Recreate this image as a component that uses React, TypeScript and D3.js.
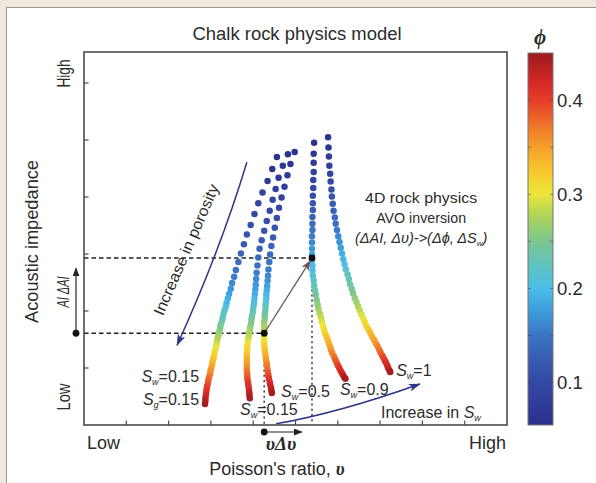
import React from "react";
import * as d3 from "d3";

// porosity samples shared by all curves
const PHI = [0.060, 0.068, 0.076, 0.084, 0.092, 0.100, 0.108, 0.116, 0.124, 0.132,
  0.140, 0.148, 0.156, 0.164, 0.172, 0.180, 0.188, 0.196, 0.204, 0.212,
  0.220, 0.228, 0.236, 0.244, 0.252, 0.260, 0.268, 0.276, 0.284, 0.292,
  0.300, 0.308, 0.316, 0.324, 0.332, 0.340, 0.348, 0.356, 0.364, 0.372,
  0.380, 0.388, 0.396, 0.404, 0.412, 0.420, 0.428, 0.436, 0.444];

// Curve A : Sw=0.15 / Sg=0.15
const NU_A = [4.56, 4.45, 4.34, 4.22, 4.12, 4.03, 3.94, 3.85, 3.78, 3.71,
  3.65, 3.59, 3.55, 3.50, 3.47, 3.43, 3.40, 3.37, 3.35, 3.32,
  3.30, 3.28, 3.26, 3.23, 3.22, 3.20, 3.18, 3.16, 3.14, 3.13,
  3.11, 3.09, 3.08, 3.06, 3.04, 3.03, 3.01, 2.99, 2.98, 2.96,
  2.94, 2.93, 2.91, 2.90, 2.89, 2.88, 2.87, 2.87, 2.86];
const AI_A = [4.70, 4.49, 4.28, 4.08, 3.89, 3.70, 3.51, 3.34, 3.17, 3.01,
  2.86, 2.72, 2.60, 2.49, 2.39, 2.30, 2.22, 2.14, 2.07, 2.01,
  1.95, 1.88, 1.82, 1.76, 1.70, 1.64, 1.58, 1.52, 1.46, 1.40,
  1.34, 1.29, 1.23, 1.17, 1.12, 1.06, 1.00, 0.95, 0.89, 0.84,
  0.79, 0.73, 0.68, 0.63, 0.58, 0.52, 0.47, 0.42, 0.37];
// Curve B : Sw=0.15
const NU_B = [4.82, 4.70, 4.60, 4.53, 4.46, 4.39, 4.32, 4.26, 4.20, 4.15,
  4.12, 4.10, 4.08, 4.07, 4.06, 4.05, 4.04, 4.03, 4.02, 4.01,
  4.00, 3.99, 3.97, 3.96, 3.95, 3.93, 3.92, 3.90, 3.89, 3.88,
  3.87, 3.86, 3.86, 3.85, 3.85, 3.85, 3.85, 3.85, 3.85, 3.85,
  3.86, 3.86, 3.87, 3.88, 3.89, 3.90, 3.91, 3.91, 3.92];
const AI_B = [4.75, 4.55, 4.34, 4.14, 3.95, 3.76, 3.58, 3.41, 3.24, 3.09,
  2.94, 2.80, 2.67, 2.56, 2.46, 2.38, 2.30, 2.22, 2.15, 2.09,
  2.03, 1.97, 1.91, 1.85, 1.78, 1.72, 1.66, 1.61, 1.55, 1.49,
  1.43, 1.38, 1.32, 1.26, 1.21, 1.15, 1.10, 1.04, 0.99, 0.94,
  0.88, 0.83, 0.78, 0.73, 0.68, 0.62, 0.57, 0.52, 0.47];
// Curve C : Sw=0.5
const NU_C = [4.98, 4.88, 4.81, 4.74, 4.67, 4.61, 4.56, 4.51, 4.47, 4.43,
  4.40, 4.38, 4.36, 4.35, 4.34, 4.33, 4.32, 4.31, 4.31, 4.30,
  4.29, 4.29, 4.28, 4.27, 4.27, 4.26, 4.26, 4.26, 4.26, 4.26,
  4.26, 4.26, 4.26, 4.27, 4.28, 4.29, 4.30, 4.31, 4.32, 4.33,
  4.34, 4.35, 4.36, 4.37, 4.39, 4.40, 4.42, 4.43, 4.44];
const AI_C = [4.79, 4.58, 4.38, 4.18, 3.99, 3.81, 3.63, 3.46, 3.29, 3.14,
  2.99, 2.86, 2.73, 2.62, 2.53, 2.44, 2.36, 2.29, 2.22, 2.16,
  2.10, 2.04, 1.98, 1.92, 1.86, 1.80, 1.74, 1.68, 1.62, 1.56,
  1.51, 1.45, 1.40, 1.34, 1.29, 1.23, 1.18, 1.12, 1.07, 1.02,
  0.96, 0.91, 0.86, 0.81, 0.76, 0.71, 0.66, 0.61, 0.56];
// Curve D : Sw=0.9
const NU_D = [5.44, 5.43, 5.43, 5.43, 5.42, 5.42, 5.41, 5.41, 5.41, 5.40,
  5.40, 5.40, 5.39, 5.39, 5.39, 5.39, 5.39, 5.40, 5.40, 5.41,
  5.43, 5.44, 5.46, 5.48, 5.50, 5.52, 5.54, 5.57, 5.60, 5.62,
  5.65, 5.67, 5.70, 5.73, 5.76, 5.79, 5.82, 5.84, 5.87, 5.91,
  5.94, 5.97, 6.00, 6.03, 6.06, 6.09, 6.12, 6.15, 6.18];
const AI_D = [4.95, 4.76, 4.60, 4.44, 4.30, 4.16, 4.02, 3.89, 3.77, 3.65,
  3.53, 3.42, 3.31, 3.20, 3.09, 2.99, 2.89, 2.80, 2.71, 2.62,
  2.53, 2.44, 2.36, 2.28, 2.19, 2.12, 2.04, 1.96, 1.89, 1.82,
  1.75, 1.68, 1.61, 1.55, 1.49, 1.43, 1.37, 1.31, 1.26, 1.20,
  1.15, 1.10, 1.05, 1.01, 0.96, 0.92, 0.88, 0.84, 0.81];
// Curve E : Sw=1
const NU_E = [5.77, 5.78, 5.79, 5.80, 5.82, 5.83, 5.85, 5.86, 5.88, 5.90,
  5.93, 5.95, 5.98, 6.01, 6.04, 6.07, 6.10, 6.13, 6.16, 6.19,
  6.23, 6.26, 6.29, 6.33, 6.36, 6.40, 6.44, 6.48, 6.52, 6.56,
  6.60, 6.64, 6.68, 6.73, 6.77, 6.81, 6.86, 6.90, 6.94, 6.98,
  7.01, 7.05, 7.08, 7.11, 7.14, 7.17, 7.19, 7.22, 7.24];
const AI_E = [5.05, 4.87, 4.71, 4.55, 4.41, 4.27, 4.13, 4.01, 3.88, 3.76,
  3.64, 3.53, 3.42, 3.31, 3.21, 3.11, 3.01, 2.91, 2.82, 2.73,
  2.64, 2.56, 2.47, 2.39, 2.31, 2.23, 2.16, 2.08, 2.01, 1.94,
  1.87, 1.80, 1.73, 1.67, 1.61, 1.55, 1.49, 1.43, 1.38, 1.32,
  1.27, 1.22, 1.18, 1.13, 1.09, 1.04, 1.00, 0.96, 0.93];

const X_TICKS = [1, 2, 3, 4, 5, 6, 7, 8, 9];
const Y_TICKS = [1, 2, 3, 4, 5, 6];
const CB_LABELS = [0.1, 0.2, 0.3, 0.4];
const CB_MINOR = [0.1, 0.15, 0.2, 0.25, 0.3, 0.35, 0.4];
const PHI_STOPS = [0.055, 0.07, 0.10, 0.12, 0.15, 0.18, 0.20, 0.22, 0.25, 0.28, 0.30, 0.32, 0.35, 0.37, 0.40, 0.42, 0.45];
const PHI_COLORS = ["#29308a", "#2d3896", "#3549a4", "#3858ae", "#3b74c4", "#3fa2de", "#4cbde9", "#5cc3c8", "#7cc690", "#b4d655", "#ece53a", "#f7cf2f", "#f6a02b", "#f07a2a", "#e63c28", "#d42826", "#9a1a1d"];

// annotation points (data units)
const LOW_PT = [4.26, 1.61];
const HIGH_PT = [5.39, 2.93];

const SANS = "'Liberation Sans Narrow', 'Arial Narrow', 'Liberation Sans', Arial, sans-serif";
const SERIF = "'Liberation Serif', 'DejaVu Serif', serif";
const TXT = "#2b2b2b";
const NAVY = "#2e3688";

function SLabel(p: { x: number; y: number; sub: string; val: string; anchor?: string }) {
  return (
    <text x={p.x} y={p.y} fontFamily={SANS} fontSize={16} fill={TXT} textAnchor={p.anchor || "start"}>
      <tspan fontStyle="italic">S</tspan>
      <tspan fontStyle="italic" fontSize={9} dy={3}>{p.sub}</tspan>
      <tspan dy={-3}>={p.val}</tspan>
    </text>
  );
}

export default function App() {
  const x = d3.scaleLinear().domain([0, 10]).range([84, 507]);
  const y = d3.scaleLinear().domain([0, 6.544]).range([425, 52]);
  const cbY = d3.scaleLinear().domain([0.055, 0.45]).range([425, 53]);
  const color = d3.scaleLinear<string>().domain(PHI_STOPS).range(PHI_COLORS).interpolate(d3.interpolateRgb);

  const curves = [
    { nu: NU_A, ai: AI_A },
    { nu: NU_B, ai: AI_B },
    { nu: NU_C, ai: AI_C },
    { nu: NU_D, ai: AI_D },
    { nu: NU_E, ai: AI_E },
  ];

  const x0 = x(0), x1 = x(10), y0 = y(0), yTop = 52;

  const poro = d3.path();
  poro.moveTo(x(3.85), y(4.61));
  poro.quadraticCurveTo(x(3.22), y(3.06), x(2.2), y(1.4));
  const swArrow = d3.path();
  swArrow.moveTo(x(4.54), y(0.02));
  swArrow.quadraticCurveTo(x(6.05), y(0.22), x(7.94), y(0.72));

  const lx = x(LOW_PT[0]), ly = y(LOW_PT[1]);
  const hx = x(HIGH_PT[0]), hy = y(HIGH_PT[1]);
  const ang = Math.atan2(hy - ly, hx - lx);
  const bx = hx - Math.cos(ang) * 4, by = hy - Math.sin(ang) * 4;

  return (
    <svg width={596} height={483} style={{ position: "absolute", left: 0, top: 0 }}>
      <defs>
        <linearGradient id="cb" x1="0" y1="1" x2="0" y2="0">
          {PHI_STOPS.map((s, i) => (
            <stop key={i} offset={(s - 0.055) / (0.45 - 0.055)} stopColor={PHI_COLORS[i]} />
          ))}
        </linearGradient>
        <marker id="navyHead" viewBox="0 0 12 8" refX="11" refY="4" markerWidth="12" markerHeight="8" markerUnits="userSpaceOnUse" orient="auto">
          <path d="M0,0 L12,4 L0,8 L3,4 z" fill={NAVY} />
        </marker>
        <marker id="brownHead" viewBox="0 0 10 8" refX="9" refY="4" markerWidth="10" markerHeight="8" markerUnits="userSpaceOnUse" orient="auto">
          <path d="M0,0 L10,4 L0,8 L2.5,4 z" fill="#6e5058" />
        </marker>
        <marker id="blackHead" viewBox="0 0 10 8" refX="9" refY="4" markerWidth="9" markerHeight="7" markerUnits="userSpaceOnUse" orient="auto">
          <path d="M0,0 L10,4 L0,8 z" fill="#222" />
        </marker>
      </defs>

      {/* background panel */}
      <rect x={0} y={0} width={596} height={483} fill="#efe9dd" />
      <rect x={6.5} y={7.5} width={600} height={490} fill="#ffffff" stroke="#9b958b" strokeWidth={1} />

      {/* title */}
      <text x={297} y={40} textAnchor="middle" fontFamily={SANS} fontSize={18} fill={TXT} textLength={209} lengthAdjust="spacingAndGlyphs">
        Chalk rock physics model
      </text>

      {/* dashed guide lines */}
      <line x1={x0} y1={hy} x2={hx} y2={hy} stroke="#222" strokeWidth={1.4} strokeDasharray="4.5,3" />
      <line x1={x0} y1={ly} x2={lx} y2={ly} stroke="#222" strokeWidth={1.4} strokeDasharray="4.5,3" />
      <line x1={hx} y1={hy} x2={hx} y2={y0} stroke="#333" strokeWidth={1.5} strokeDasharray="2,3.2" />
      <line x1={lx} y1={ly} x2={lx} y2={y0} stroke="#333" strokeWidth={1.5} strokeDasharray="2,3.2" />

      {/* curves */}
      {curves.map((c, ci) => (
        <g key={ci}>
          {PHI.map((p, i) => (
            <circle key={i} cx={x(c.nu[i])} cy={y(c.ai[i])} r={3.25} fill={color(p)} />
          ))}
        </g>
      ))}

      {/* arrows */}
      <path d={poro.toString()} fill="none" stroke={NAVY} strokeWidth={1.5} markerEnd="url(#navyHead)" />
      <path d={swArrow.toString()} fill="none" stroke={NAVY} strokeWidth={1.5} markerEnd="url(#navyHead)" />
      <line x1={lx} y1={ly} x2={bx} y2={by} stroke="#6e5058" strokeWidth={1.3} markerEnd="url(#brownHead)" />
      <circle cx={lx} cy={ly} r={3.4} fill="#111" />
      <circle cx={hx} cy={hy} r={3.4} fill="#111" />

      {/* frame */}
      <rect x={x0} y={yTop} width={x1 - x0} height={y0 - yTop} fill="none" stroke="#4a4a4a" strokeWidth={1.6} />
      {X_TICKS.map((t) => (
        <line key={t} x1={x(t)} x2={x(t)} y1={y0} y2={y0 - 4.5} stroke="#4a4a4a" strokeWidth={1.2} />
      ))}
      {Y_TICKS.map((t) => (
        <line key={t} x1={x0} x2={x0 + 4.5} y1={y(t)} y2={y(t)} stroke="#4a4a4a" strokeWidth={1.2} />
      ))}

      {/* axis labels */}
      <text transform={`translate(69.5,73.5) rotate(-90)`} textAnchor="middle" fontFamily={SANS} fontSize={19} fill={TXT} textLength={28} lengthAdjust="spacingAndGlyphs">High</text>
      <text transform={`translate(69.5,397) rotate(-90)`} textAnchor="middle" fontFamily={SANS} fontSize={19} fill={TXT} textLength={27} lengthAdjust="spacingAndGlyphs">Low</text>
      <text transform={`translate(37.5,241.5) rotate(-90)`} textAnchor="middle" fontFamily={SANS} fontSize={18.5} fill={TXT} textLength={163} lengthAdjust="spacingAndGlyphs">Acoustic impedance</text>
      <text transform={`translate(68.5,292) rotate(-90)`} textAnchor="middle" fontFamily={SANS} fontSize={17} fontStyle="italic" fill={TXT} textLength={31} lengthAdjust="spacingAndGlyphs">AI ΔAI</text>
      <circle cx={76} cy={ly} r={3.4} fill="#111" />
      <line x1={76} y1={ly} x2={76} y2={y(2.75)} stroke="#222" strokeWidth={1.2} markerEnd="url(#blackHead)" />

      <text x={x0 + 3} y={449} fontFamily={SANS} fontSize={18} fill={TXT} textLength={33} lengthAdjust="spacingAndGlyphs">Low</text>
      <text x={x1 - 1} y={449} textAnchor="end" fontFamily={SANS} fontSize={18} fill={TXT} textLength={37} lengthAdjust="spacingAndGlyphs">High</text>
      <circle cx={lx} cy={432} r={3.4} fill="#111" />
      <line x1={lx} y1={432} x2={x(5.15)} y2={432} stroke="#222" strokeWidth={1.2} markerEnd="url(#blackHead)" />
      <text x={281} y={450} textAnchor="middle" fontFamily={SERIF} fontSize={19} fontStyle="italic" fontWeight="bold" fill={TXT}>υΔυ</text>
      <text x={277} y={475} textAnchor="middle" fontFamily={SANS} fontSize={18} fill={TXT}>
        Poisson's ratio, <tspan fontFamily={SERIF} fontStyle="italic" fontWeight="bold">υ</tspan>
      </text>

      {/* curve labels */}
      <SLabel x={x(2.72)} y={y(0.75)} sub="w" val="0.15" anchor="end" />
      <SLabel x={x(2.72)} y={y(0.35)} sub="g" val="0.15" anchor="end" />
      <SLabel x={x(3.69)} y={y(0.18)} sub="w" val="0.15" />
      <SLabel x={x(4.66)} y={y(0.49)} sub="w" val="0.5" />
      <SLabel x={x(6.05)} y={y(0.53)} sub="w" val="0.9" />
      <SLabel x={x(7.38)} y={y(0.86)} sub="w" val="1" />
      <text x={x(7.02)} y={y(0.12)} fontFamily={SANS} fontSize={16} fill={TXT}>
        Increase in <tspan fontStyle="italic">S</tspan><tspan fontStyle="italic" fontSize={9} dy={3}>w</tspan>
      </text>
      <text transform={`translate(${x(2.53)},${y(3.04)}) rotate(-66.5)`} textAnchor="middle" fontFamily={SANS} fontSize={15.5} fill={TXT} textLength={141} lengthAdjust="spacingAndGlyphs">Increase in porosity</text>

      {/* annotation block */}
      <text x={x(7.97)} y={y(3.89)} textAnchor="middle" fontFamily={SANS} fontSize={14.5} fill={TXT} textLength={112} lengthAdjust="spacingAndGlyphs">4D rock physics</text>
      <text x={x(7.97)} y={y(3.54)} textAnchor="middle" fontFamily={SANS} fontSize={14.5} fill={TXT} textLength={90} lengthAdjust="spacingAndGlyphs">AVO inversion</text>
      <text x={x(7.97)} y={y(3.19)} textAnchor="middle" fontFamily={SANS} fontSize={14.5} fontStyle="italic" fill={TXT}>
        (ΔAI, Δυ)-&gt;(Δϕ, ΔS<tspan fontSize={8} dy={3}>w</tspan><tspan dy={-3}>)</tspan>
      </text>

      {/* colorbar */}
      <rect x={528} y={cbY(0.45)} width={25} height={cbY(0.055) - cbY(0.45)} fill="url(#cb)" stroke="#777" strokeWidth={1} />
      {CB_MINOR.map((t) => (
        <g key={t}>
          <line x1={528} x2={531} y1={cbY(t)} y2={cbY(t)} stroke="#333" strokeOpacity={0.5} />
          <line x1={550} x2={553} y1={cbY(t)} y2={cbY(t)} stroke="#333" strokeOpacity={0.5} />
        </g>
      ))}
      {CB_LABELS.map((t) => (
        <text key={t} x={557} y={cbY(t) + 6.5} fontFamily={SANS} fontSize={18.5} fill={TXT}>{t.toFixed(1)}</text>
      ))}
      <text x={540} y={44} textAnchor="middle" fontFamily={SERIF} fontSize={21} fontStyle="italic" fontWeight="bold" fill={TXT}>ϕ</text>
    </svg>
  );
}
